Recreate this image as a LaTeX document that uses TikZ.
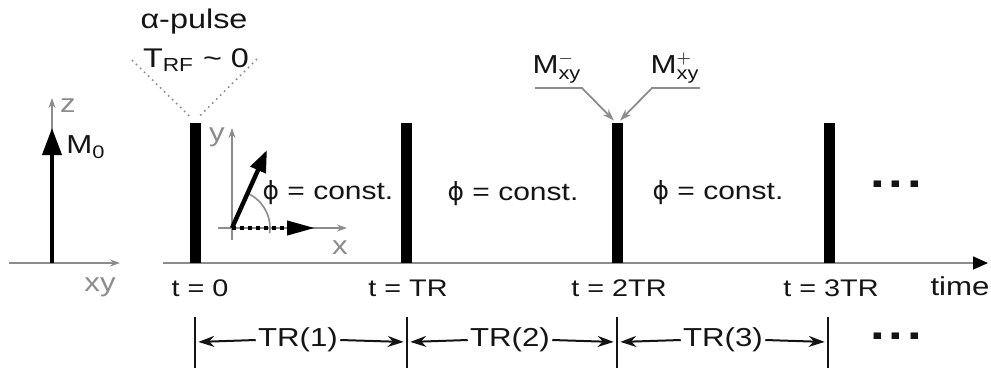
\documentclass[tikz,border=0pt]{standalone}
\usepackage{fontspec}
\setmainfont{Liberation Sans}[FakeStretch=1.2]
\newfontfamily\symfont{DejaVu Sans}
\usepackage{amsmath}
\usetikzlibrary{arrows.meta, positioning, calc}
\definecolor{axisgray}{RGB}{140, 140, 140}
\definecolor{inkblack}{RGB}{20, 20, 20}
\newcommand{\phiconst}{{\symfont ϕ} = const.}

\begin{document}
\begin{tikzpicture}[x=0.5pt, y=-0.5pt,
    pulse/.style={fill=black, inner sep=0pt, minimum width=5.5pt, minimum height=70pt},
    tick/.style={fill=inkblack, inner sep=0pt, minimum width=0.9pt, minimum height=25.5pt},
    tlab/.style={font=\fontsize{12}{14}\selectfont, text=inkblack},
    txt/.style={font=\fontsize{13}{15}\selectfont, text=inkblack},
    glab/.style={font=\fontsize{13}{15}\selectfont, text=axisgray},
    gaxis/.style={draw=axisgray, line width=0.8pt, -{Stealth[length=5pt, width=3.5pt]}},
    span/.style={draw=inkblack, line width=1pt, -{Stealth[length=8pt, width=5.5pt]}},
    pointer/.style={draw=axisgray, line width=0.9pt, -{Stealth[length=6pt, width=4pt]}},
    dots/.style={font=\fontsize{22}{22}\selectfont\bfseries, text=inkblack}]
  \useasboundingbox (0,0) rectangle (991,372);

  % Equilibrium magnetization
  \coordinate (o) at (52,263);
  \coordinate (xyL) at (9,263);
  \coordinate (xyR) at (120,263);
  \coordinate (zTop) at (52,98);
  \coordinate (m0Tip) at (52,128);
  \draw[gaxis] (xyL) -- (xyR);
  \draw[gaxis] (o) -- (zTop);
  \draw[line width=2pt, -{Triangle[length=13.5pt, width=9.5pt]}] (o) -- (m0Tip);
  \node[glab] (zLab) at (68,106) {z};
  \node[txt] (m0Lab) at (86,147) {M$_{\text{0}}$};
  \node[glab] (xyLab) at (100,287) {xy};

  % Time axis
  \coordinate (tax0) at (163,263);
  \coordinate (tax1) at (988,263);
  \draw[draw=axisgray, line width=0.8pt, -{Triangle[length=7.5pt, width=6.5pt, color=black]}] (tax0) -- (tax1);
  \node[txt] (timeLab) at (960,286) {time};

  % RF pulses
  \node[pulse] (p0) at (195,193) {};
  \node[pulse] (p1) at (406,193) {};
  \node[pulse] (p2) at (617,193) {};
  \node[pulse] (p3) at (829,193) {};
  \node[tlab] (t0) at (200,288) {t = 0};
  \node[tlab] (t1) at (408,288) {t = TR};
  \node[tlab] (t2) at (619,288) {t = 2TR};
  \node[tlab] (t3) at (831,288) {t = 3TR};

  % alpha pulse
  \node[txt, font=\fontsize{13.5}{15}\selectfont] (alphaLab) at (194,22) {α-pulse};
  \node[txt, font=\fontsize{13.5}{15}\selectfont] (trfLab) at (196,60) {T$_{\text{RF}}$ \textasciitilde{} 0};
  \coordinate (dotL) at (132,60);
  \coordinate (dotR) at (257,59);
  \draw[axisgray, line width=0.8pt, dotted] (dotL) -- ($(p0.north)+(-4,-5)$);
  \draw[axisgray, line width=0.8pt, dotted] (dotR) -- ($(p0.north)+(3,-5)$);

  % Transverse magnetization inset
  \coordinate (io) at (232,228);
  \coordinate (iyB) at (232,240);
  \coordinate (iyT) at (232,128);
  \coordinate (ixL) at (218,228);
  \coordinate (ixR) at (347,228);
  \coordinate (mTip) at (267,150);
  \coordinate (mxTip) at (315,228);
  \draw[gaxis] (iyB) -- (iyT);
  \draw[gaxis] (ixL) -- (ixR);
  \draw[axisgray, line width=0.8pt] ($(io)+(8:38)$) arc[start angle=8, end angle=-65, radius=38];
  \draw[line width=2pt, dash pattern=on 2pt off 2pt, -{Triangle[length=14pt, width=7pt]}] (io) -- (mxTip);
  \draw[line width=2.2pt, -{Triangle[length=11pt, width=8pt]}] (io) -- (mTip);
  \node[glab] (yLab) at (217,137) {y};
  \node[glab] (xLab) at (340,248) {x};

  % Phase labels
  \node[txt, font=\fontsize{12.5}{15}\selectfont] (ph1) at (328,193) {\phiconst};
  \node[txt, font=\fontsize{12.5}{15}\selectfont] (ph2) at (513,194) {\phiconst};
  \node[txt, font=\fontsize{12.5}{15}\selectfont] (ph3) at (718,193) {\phiconst};
  \node[dots] (dotsTop) at (896,184) {.\hspace{2pt}.\hspace{2pt}.};

  % Magnetization before / after the pulse
  \node[txt] (mMinus) at (557,68) {M$^{-}_{\text{xy}}$};
  \node[txt] (mPlus) at (675,68) {M$^{+}_{\text{xy}}$};
  \coordinate (mmA) at (535,88);
  \coordinate (mmB) at (582,88);
  \coordinate (mpA) at (700,88);
  \coordinate (mpB) at (652,88);
  \draw[pointer] (mmA) -- (mmB) -- ($(p2.north)+(-3,-2)$);
  \draw[pointer] (mpA) -- (mpB) -- ($(p2.north)+(3,-2)$);

  % Repetition intervals
  \node[tick] (b0) at (195,342) {};
  \node[tick] (b1) at (407,342) {};
  \node[tick] (b2) at (617,342) {};
  \node[tick] (b3) at (828,342) {};
  \node[txt, inner sep=1pt] (tr1) at (298,340) {TR(1)};
  \node[txt, inner sep=1pt] (tr2) at (510,340) {TR(2)};
  \node[txt, inner sep=1pt] (tr3) at (723,340) {TR(3)};
  \draw[span, shorten >=1pt] (tr1.west) -- (b0.east);
  \draw[span, shorten >=1pt] (tr1.east) -- (b1.west);
  \draw[span, shorten >=1pt] (tr2.west) -- (b1.east);
  \draw[span, shorten >=1pt] (tr2.east) -- (b2.west);
  \draw[span, shorten >=1pt] (tr3.west) -- (b2.east);
  \draw[span, shorten >=1pt] (tr3.east) -- (b3.west);
  \node[dots] (dotsBot) at (896,336) {.\hspace{2pt}.\hspace{2pt}.};
\end{tikzpicture}
\end{document}
